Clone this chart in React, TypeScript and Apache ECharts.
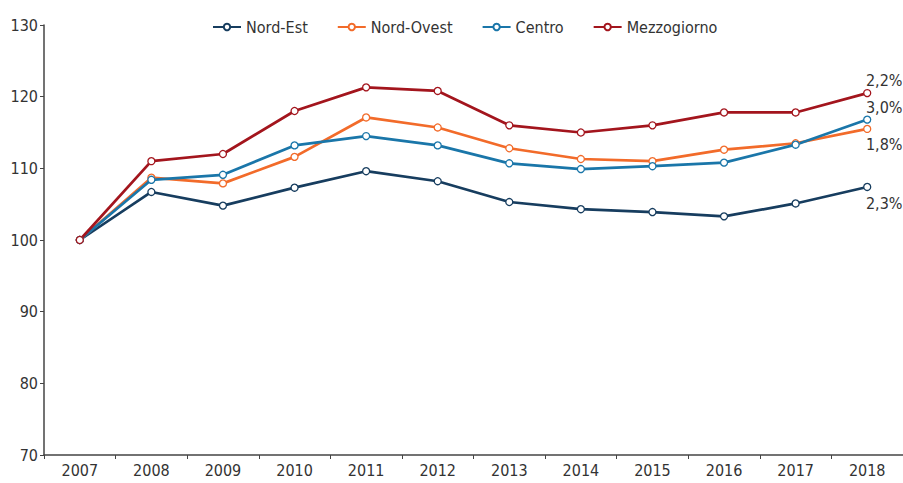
import React, { useEffect, useRef } from "react";
import * as echarts from "echarts";

const years = ["2007","2008","2009","2010","2011","2012","2013","2014","2015","2016","2017","2018"];
const nordEst = [100,106.7,104.8,107.3,109.6,108.2,105.3,104.3,103.9,103.3,105.1,107.4];
const nordOvest = [100,108.7,107.9,111.6,117.1,115.7,112.8,111.3,111.0,112.6,113.5,115.5];
const centro = [100,108.4,109.1,113.2,114.5,113.2,110.7,109.9,110.3,110.8,113.3,116.8];
const mezzogiorno = [100,111.0,112.0,118.0,121.3,120.8,116.0,115.0,116.0,117.8,117.8,120.5];
const endLabels = { nordEst: "2,3%", nordOvest: "1,8%", centro: "3,0%", mezzogiorno: "2,2%" };

const FONT = "'Liberation Sans Narrow', 'DejaVu Sans Condensed', 'Roboto', sans-serif";

function mkSeries(name: string, data: number[], color: string, label: string, offY: number) {
  const last = data.length - 1;
  return {
    name,
    type: "line",
    data: data.map((v, i) =>
      i === last
        ? {
            value: v,
            label: {
              show: true,
              formatter: label,
              position: "inside",
              offset: [17, offY],
              color: "#333",
              fontSize: 16,
              fontFamily: FONT,
            },
          }
        : v
    ),
    symbol: "circle",
    symbolSize: 7,
    showSymbol: true,
    lineStyle: { color, width: 2.7 },
    itemStyle: { color: "#fff", borderColor: color, borderWidth: 1.3 },
    emphasis: { disabled: true },
    z: 2,
  };
}

export default function App() {
  const ref = useRef<HTMLDivElement>(null);
  useEffect(() => {
    const chart = echarts.init(ref.current!, null, { renderer: "svg" });
    chart.setOption({
      animation: false,
      backgroundColor: "#fff",
      textStyle: { fontFamily: FONT },
      legend: {
        top: 14,
        left: 207,
        itemWidth: 28,
        itemHeight: 8,
        itemGap: 29,
        textStyle: { fontSize: 16, color: "#333", fontFamily: FONT },
        data: [
          { name: "Nord-Est", itemStyle: { color: "#fff", borderColor: "#173d5f" }, lineStyle: { color: "#173d5f" } },
          { name: "Nord-Ovest", itemStyle: { color: "#fff", borderColor: "#f26b2a" }, lineStyle: { color: "#f26b2a" } },
          { name: "Centro", itemStyle: { color: "#fff", borderColor: "#1a76a9" }, lineStyle: { color: "#1a76a9" } },
          { name: "Mezzogiorno", itemStyle: { color: "#fff", borderColor: "#a3151d" }, lineStyle: { color: "#a3151d" } },
        ],
      },
      grid: { left: 44, right: 0, top: 25, bottom: 28, containLabel: false },
      xAxis: {
        type: "category",
        data: years,
        boundaryGap: true,
        axisLine: { lineStyle: { color: "#444", width: 1.5 } },
        axisTick: { show: true, length: 4, lineStyle: { color: "#444" } },
        axisLabel: { color: "#333", fontSize: 16, fontFamily: FONT, margin: 7 },
      },
      yAxis: {
        type: "value",
        min: 70,
        max: 130,
        interval: 10,
        splitLine: { show: false },
        axisLine: { show: true, lineStyle: { color: "#444", width: 1.5 } },
        axisTick: { show: true, length: 4, lineStyle: { color: "#444" } },
        axisLabel: { color: "#333", fontSize: 16, fontFamily: FONT, margin: 6 },
      },
      series: [
        mkSeries("Nord-Est", nordEst, "#173d5f", endLabels.nordEst, 17),
        mkSeries("Nord-Ovest", nordOvest, "#f26b2a", endLabels.nordOvest, 16),
        mkSeries("Centro", centro, "#1a76a9", endLabels.centro, -12),
        mkSeries("Mezzogiorno", mezzogiorno, "#a3151d", endLabels.mezzogiorno, -13),
      ],
    });
    return () => chart.dispose();
  }, []);
  return <div ref={ref} style={{ position: "fixed", left: 0, top: 0, width: 903, height: 483 }} />;
}
